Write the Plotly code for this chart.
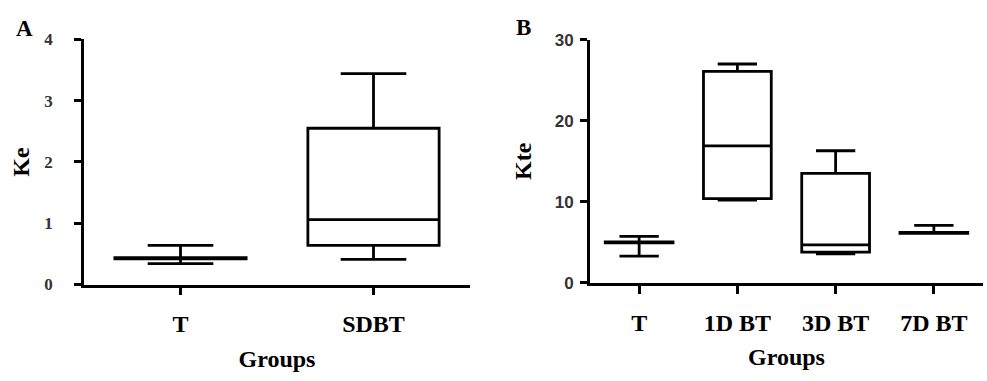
import plotly.graph_objects as go

# Panel A: Ke by group
a_groups = ["T", "SDBT"]
a_low = [0.34, 0.41]
a_q1 = [0.42, 0.64]
a_med = [0.43, 1.06]
a_q3 = [0.44, 2.55]
a_high = [0.64, 3.44]
a_yticks = [0, 1, 2, 3, 4]

# Panel B: Kte by group
b_groups = ["T", "1D BT", "3D BT", "7D BT"]
b_low = [3.3, 10.2, 3.6, 6.1]
b_q1 = [4.95, 10.4, 3.8, 6.12]
b_med = [5.0, 16.9, 4.7, 6.17]
b_q3 = [5.05, 26.1, 13.5, 6.22]
b_high = [5.75, 27.0, 16.3, 7.1]
b_yticks = [0, 10, 20, 30]

W, H = 987, 381
SERIF = "Liberation Serif, Times New Roman, serif"
SANS = "Liberation Sans, Arial, sans-serif"
LW = 2.8

fig = go.Figure()

fig.add_trace(go.Box(
    x=a_groups, q1=a_q1, median=a_med, q3=a_q3,
    lowerfence=a_low, upperfence=a_high,
    xaxis="x", yaxis="y", width=0.68, whiskerwidth=0.5,
    line=dict(color="black", width=LW), fillcolor="white",
    boxpoints=False, showlegend=False, hoverinfo="skip",
))
fig.add_trace(go.Box(
    x=b_groups, q1=b_q1, median=b_med, q3=b_q3,
    lowerfence=b_low, upperfence=b_high,
    xaxis="x2", yaxis="y2", width=0.69, whiskerwidth=0.58,
    line=dict(color="black", width=LW), fillcolor="white",
    boxpoints=False, showlegend=False, hoverinfo="skip",
))

def xax(domain, cats):
    return dict(
        domain=domain, type="category", categoryorder="array",
        categoryarray=cats, range=[-0.5, len(cats) - 0.5],
        showline=True, linecolor="black", linewidth=LW,
        ticks="outside", ticklen=8, tickwidth=LW, tickcolor="black",
        showgrid=False, zeroline=False, fixedrange=True,
        tickfont=dict(family=SERIF, size=24, color="black", weight="bold"),
        ticklabelstandoff=8,
        title=dict(text="<b>Groups</b>", standoff=14,
                   font=dict(family=SERIF, size=24, color="black")),
    )

def yax(domain, rng, ticks, title, tickfont, anchor, standoff, title_standoff):
    return dict(
        domain=domain, range=rng, tickvals=ticks, anchor=anchor,
        showline=True, linecolor="black", linewidth=LW,
        ticks="outside", ticklen=7, tickwidth=LW, tickcolor="black",
        showgrid=False, zeroline=False, fixedrange=True,
        tickfont=tickfont, ticklabelstandoff=standoff,
        title=dict(text=f"<b>{title}</b>", standoff=title_standoff,
                   font=dict(family=SERIF, size=24, color="black")),
    )

ya_dom = [(H - 290) / H, (H - 32) / H]
yb_dom = [(H - 288.3) / H, (H - 32.3) / H]

fig.update_layout(
    width=W, height=H,
    margin=dict(l=0, r=0, t=0, b=0),
    paper_bgcolor="white", plot_bgcolor="white",
    xaxis=xax([84 / W, 470 / W], a_groups) | dict(anchor="y"),
    yaxis=yax(ya_dom, [0, 4], a_yticks, "Ke",
              dict(family=SERIF, size=17, color="#333333", weight="bold"),
              "x", 18, 8),
    xaxis2=xax([590 / W, 983 / W], b_groups) | dict(anchor="y2"),
    yaxis2=yax(yb_dom, [0, 30], b_yticks, "Kte",
               dict(family=SANS, size=17, color="#333333", weight="bold"),
               "x2", 3, 17),
    annotations=[
        dict(text="<b>A</b>", x=24 / W, y=(H - 21) / H, xref="paper", yref="paper",
             showarrow=False, xanchor="center", yanchor="middle",
             font=dict(family=SERIF, size=23, color="black")),
        dict(text="<b>B</b>", x=523 / W, y=(H - 19) / H, xref="paper", yref="paper",
             showarrow=False, xanchor="center", yanchor="middle",
             font=dict(family=SERIF, size=23, color="black")),
    ],
)

fig.write_html("out.html")
